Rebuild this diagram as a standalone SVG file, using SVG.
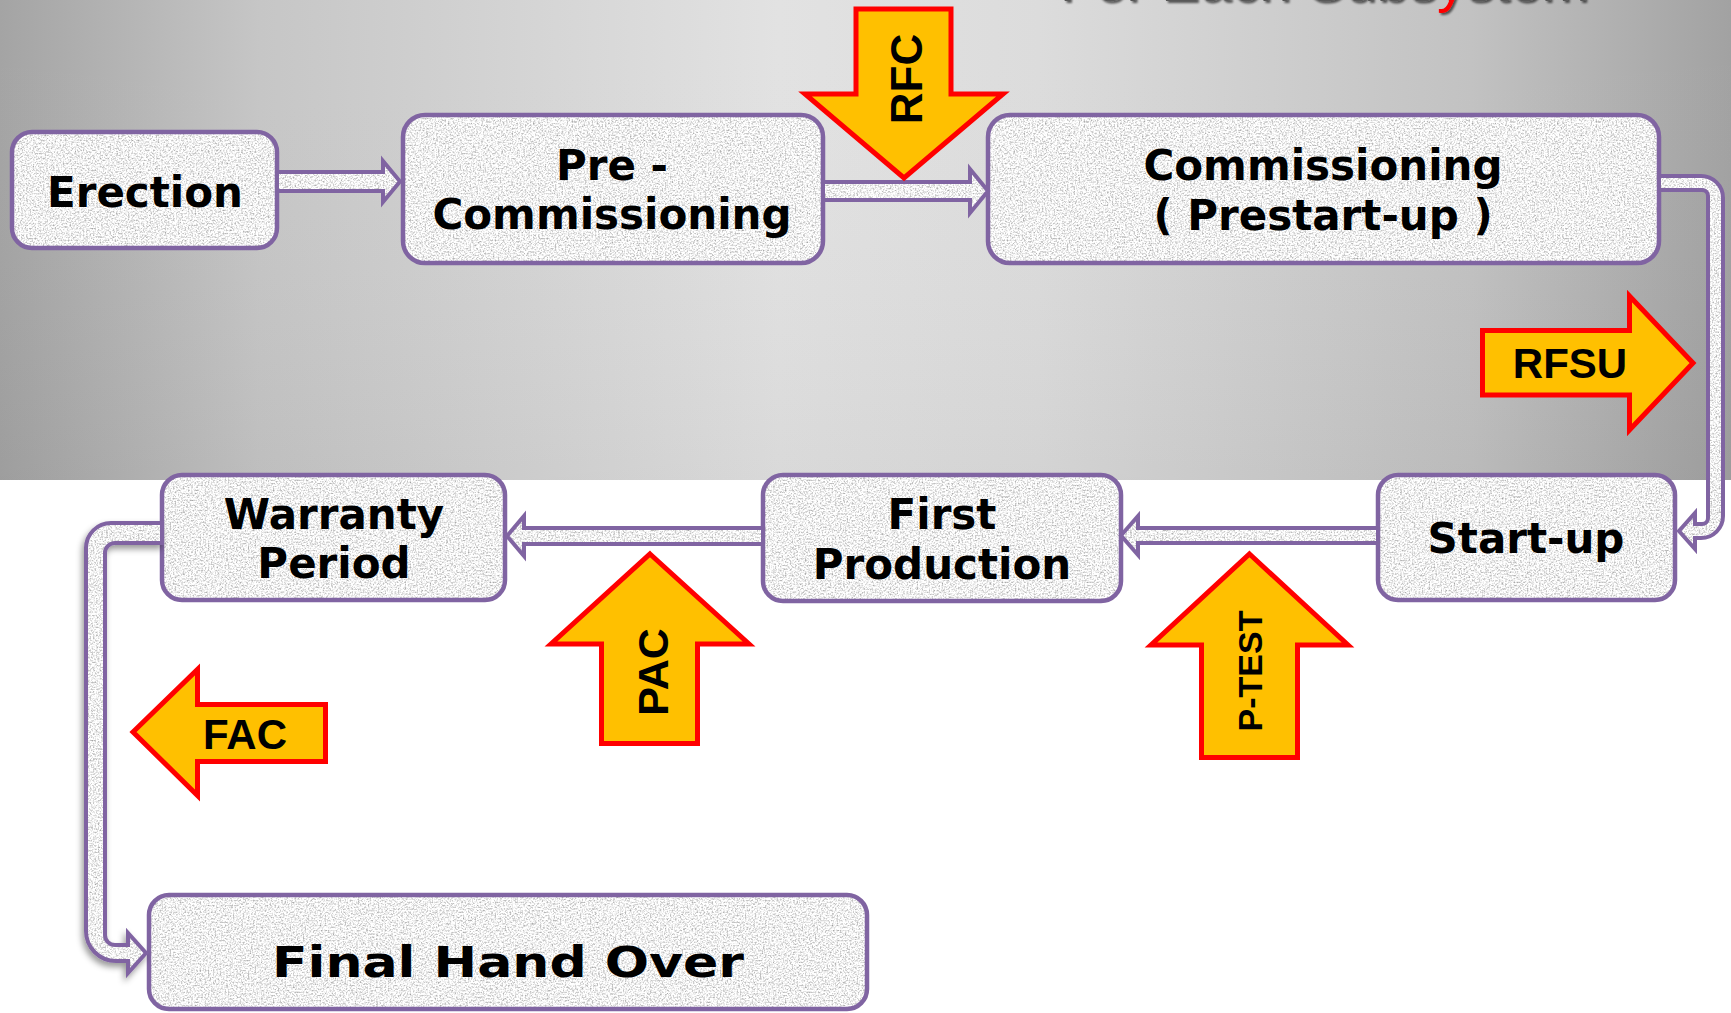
<svg xmlns="http://www.w3.org/2000/svg" width="1731" height="1013" viewBox="0 0 1731 1013">
  <defs>
    <linearGradient id="bgBand" x1="0" y1="0" x2="1731" y2="0" gradientUnits="userSpaceOnUse">
      <stop offset="0" stop-color="#a4a4a4"/>
      <stop offset="0.15" stop-color="#c6c6c6"/>
      <stop offset="0.45" stop-color="#e2e2e2"/>
      <stop offset="0.6" stop-color="#dcdcdc"/>
      <stop offset="0.85" stop-color="#c2c2c2"/>
      <stop offset="1" stop-color="#a2a2a2"/>
    </linearGradient>
    <linearGradient id="bgFade" x1="0" y1="0" x2="0" y2="480" gradientUnits="userSpaceOnUse">
      <stop offset="0" stop-color="#ffffff" stop-opacity="0"/>
      <stop offset="1" stop-color="#000000" stop-opacity="0.04"/>
    </linearGradient>
    <!-- speckled stone texture used for boxes and connector bodies -->
    <filter id="grain" x="0" y="0" width="100%" height="100%" color-interpolation-filters="sRGB">
      <feTurbulence type="fractalNoise" baseFrequency="0.6" numOctaves="3" seed="11" result="noise"/>
      <feColorMatrix in="noise" type="matrix" values="0.75 0 0 0 0.57  0.75 0 0 0 0.57  0.75 0 0 0 0.57  0 0 0 0 1"/>
    </filter>
    <pattern id="granite" patternUnits="userSpaceOnUse" width="512" height="512">
      <rect width="512" height="512" fill="#ededed" filter="url(#grain)"/>
    </pattern>
    <filter id="shade" x="-20%" y="-10%" width="140%" height="120%">
      <feDropShadow dx="-2" dy="4" stdDeviation="3" flood-color="#000000" flood-opacity="0.4"/>
    </filter>
    <filter id="titleShadow" x="-5%" y="-50%" width="110%" height="200%">
      <feDropShadow dx="2" dy="2" stdDeviation="1" flood-color="#000000" flood-opacity="0.6"/>
    </filter>
    <style>
      .box { fill: url(#granite); stroke: #8064a2; stroke-width: 4.5; }
      .label { font-family: "DejaVu Sans", Verdana, sans-serif; font-weight: bold; font-size: 42px; fill: #000000; text-anchor: middle; }
      .link { fill: url(#granite); stroke: #8064a2; stroke-width: 4; stroke-linejoin: miter; }
      .flag { fill: #ffc000; stroke: #ff0000; stroke-width: 5; stroke-linejoin: miter; }
      .flagText { font-family: "Liberation Sans", Arial, sans-serif; font-weight: bold; fill: #000000; text-anchor: middle; }
      .title { font-family: "Liberation Sans", Arial, sans-serif; font-size: 57px; fill: #595959; }
    </style>
  </defs>

  <!-- backdrop: grey band behind the upper row, white below -->
  <rect x="0" y="0" width="1731" height="1013" fill="#ffffff"/>
  <rect x="0" y="0" width="1731" height="480" fill="url(#bgBand)"/>
  <rect x="0" y="0" width="1731" height="480" fill="url(#bgFade)"/>

  <!-- heading, mostly above the visible area -->
  <text class="title" x="1060" y="1" filter="url(#titleShadow)">For Each Subs<tspan fill="#ff0000">y</tspan>stem</text>

  <!-- process steps -->
  <g id="n-erection">
    <rect class="box" x="12" y="132" width="265" height="116" rx="20"/>
    <text class="label" x="145" y="207">Erection</text>
  </g>
  <g id="n-precommissioning">
    <rect class="box" x="403" y="115" width="420" height="148" rx="22"/>
    <text class="label" x="612" y="180">Pre -</text>
    <text class="label" x="612" y="229">Commissioning</text>
  </g>
  <g id="n-commissioning">
    <rect class="box" x="988" y="115" width="671" height="148" rx="22"/>
    <text class="label" x="1323" y="180">Commissioning</text>
    <text class="label" x="1323" y="230">( Prestart-up )</text>
  </g>
  <g id="n-startup">
    <rect class="box" x="1378" y="475" width="297" height="125" rx="20"/>
    <text class="label" x="1526" y="553">Start-up</text>
  </g>
  <g id="n-firstproduction">
    <rect class="box" x="763" y="475" width="358" height="126" rx="20"/>
    <text class="label" x="942" y="529">First</text>
    <text class="label" x="942" y="579">Production</text>
  </g>
  <g id="n-warranty">
    <rect class="box" x="162" y="475" width="343" height="125" rx="20"/>
    <text class="label" x="334" y="529">Warranty</text>
    <text class="label" x="334" y="578">Period</text>
  </g>
  <g id="n-finalhandover">
    <rect class="box" x="149" y="895" width="718" height="114" rx="20"/>
    <text class="label" x="508" y="977" font-size="58" textLength="472" lengthAdjust="spacingAndGlyphs">Final Hand Over</text>
  </g>

  <!-- hollow block connectors between steps -->
  <g id="connectors">
    <path class="link" d="M 277 172 H 383 V 161 L 400 181.5 L 383 202 V 191 H 277 Z"/>
    <path class="link" d="M 823 182 H 970 V 169 L 988 191 L 970 213 V 200 H 823 Z"/>
    <path class="link" d="M 1659 176 H 1701 A 22 22 0 0 1 1723 198 V 516 A 22 22 0 0 1 1701 538 H 1695 V 549 L 1679 531 L 1695 513 V 524 H 1702 A 6 6 0 0 0 1708 518 V 196 A 6 6 0 0 0 1702 190 H 1659 Z"/>
    <path class="link" d="M 1378 528 H 1138 V 516 L 1121 535.5 L 1138 555 V 543 H 1378 Z"/>
    <path class="link" d="M 763 528 H 524 V 516 L 507 536 L 524 556 V 544 H 763 Z"/>
    <path class="link" filter="url(#shade)" d="M 162 523 H 111 A 25 25 0 0 0 86 548 V 931 A 30 30 0 0 0 116 961 H 128 V 973 L 146 953 L 128 933 V 945 H 115 A 10 10 0 0 1 105 935 V 553 A 10 10 0 0 1 115 543 H 162 Z"/>
  </g>

  <!-- milestone flags -->
  <g id="f-rfc">
    <path class="flag" d="M 856 9 H 951 V 94 H 1003 L 904 178 L 805 94 H 856 Z"/>
    <text class="flagText" font-size="44" transform="translate(922 79) rotate(-90)">RFC</text>
  </g>
  <g id="f-rfsu">
    <path class="flag" d="M 1482.5 330.5 H 1629.5 V 296 L 1693 363 L 1629.5 430 V 395 H 1482.5 Z"/>
    <text class="flagText" font-size="42" x="1570" y="378">RFSU</text>
  </g>
  <g id="f-ptest">
    <path class="flag" d="M 1249.5 554 L 1348 645 H 1297.5 V 757.5 H 1201.5 V 645 H 1151 Z"/>
    <text class="flagText" font-size="34" transform="translate(1262 671) rotate(-90)">P-TEST</text>
  </g>
  <g id="f-pac">
    <path class="flag" d="M 650 554 L 749 644 H 697.5 V 743.5 H 601.5 V 644 H 551 Z"/>
    <text class="flagText" font-size="43" transform="translate(668 672) rotate(-90)">PAC</text>
  </g>
  <g id="f-fac">
    <path class="flag" d="M 133 732 L 197.5 669.5 V 704.5 H 325.5 V 761.5 H 197.5 V 795.5 Z"/>
    <text class="flagText" font-size="42" x="245" y="749">FAC</text>
  </g>
</svg>
